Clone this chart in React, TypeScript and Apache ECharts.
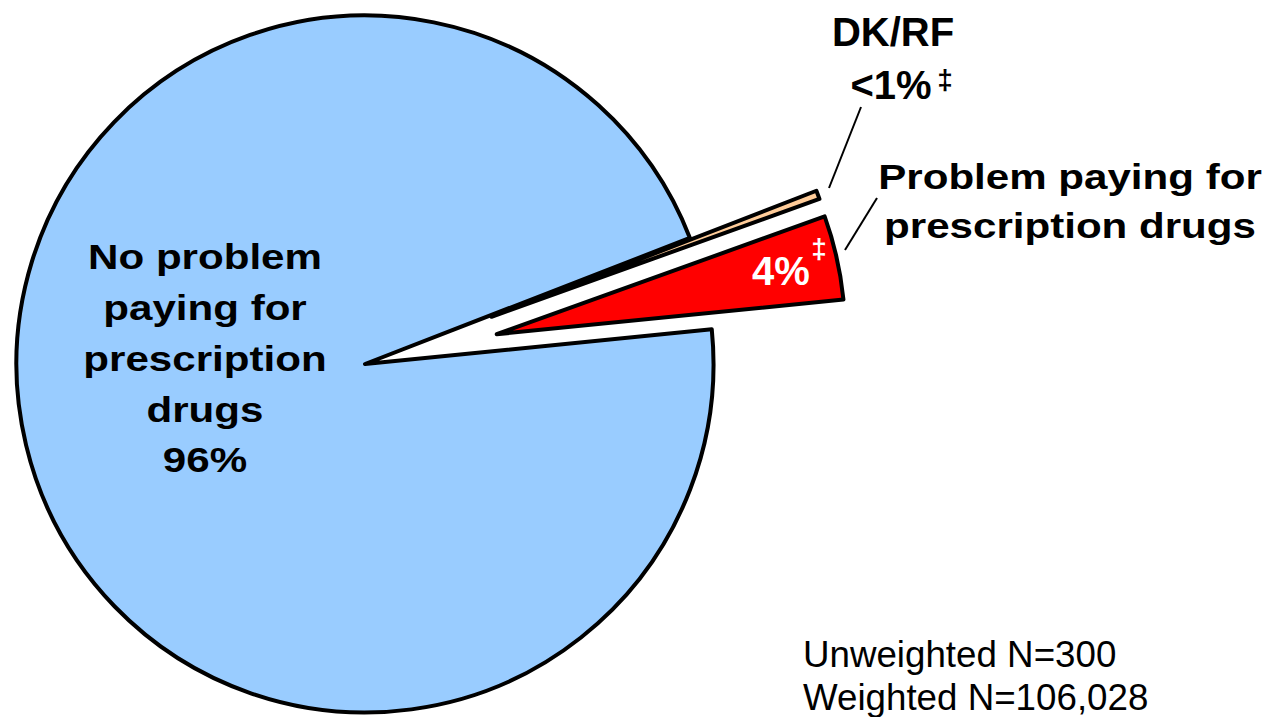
import React, { useEffect, useRef } from "react";
import * as echarts from "echarts";

// ---- data ----
const categories = ["DK/RF", "Problem paying for prescription drugs", "No problem paying for prescription drugs"];
const values = [0.4, 3.9, 95.7];
const valueLabels = ["<1%", "4%", "96%"];
const colors = ["#FFCC99", "#FF0000", "#99CCFF"];
const exploded = [true, true, false];
const blueLabelLines = ["No problem", "paying for", "prescription", "drugs"];
const redLabelLines = ["Problem paying for", "prescription drugs"];
const footnoteMark = "‡";
const sampleLines = ["Unweighted N=300", "Weighted N=106,028"];

const FONT = "'Liberation Sans', Arial, Helvetica, sans-serif";

export default function App() {
  const ref = useRef<HTMLDivElement>(null);

  useEffect(() => {
    if (!ref.current) return;
    const chart = echarts.init(ref.current, null, { renderer: "svg" });

    const boldText = (x: number, y: number, text: string, size: number, color: string, scaleX = 1, lineHeight?: number) => ({
      type: "text",
      x,
      y,
      z: 100,
      scaleX,
      silent: true,
      style: {
        x: 0,
        y: 0,
        text,
        fill: color,
        font: `bold ${size}px ${FONT}`,
        fontFamily: FONT,
        fontWeight: "bold",
        fontSize: size,
        lineHeight: lineHeight ?? size,
        align: "center",
        verticalAlign: "middle",
      },
    });

    const option: any = {
      animation: false,
      backgroundColor: "#ffffff",
      series: [
        {
          type: "pie",
          z: 2,
          center: [365, 364],
          radius: 348.5,
          startAngle: 21.2,
          clockwise: true,
          selectedMode: "multiple",
          selectedOffset: 135,
          silent: true,
          emphasis: { disabled: true },
          label: { show: false },
          labelLine: { show: false },
          itemStyle: { borderColor: "#000", borderWidth: 4, borderJoin: "round" },
          select: { itemStyle: { borderColor: "#000", borderWidth: 4 } },
          data: categories.map((name, i) => ({
            name,
            value: values[i],
            selected: exploded[i],
            itemStyle: { color: colors[i] },
            select: { itemStyle: { color: colors[i] } },
          })),
        },
      ],
      graphic: {
        elements: [
          // main slice label
          boldText(205, 358.5, blueLabelLines.concat([valueLabels[2]]).join("\n"), 36, "#000", 1.17, 50.75),
          // problem label
          boldText(1070, 201, redLabelLines.join("\n"), 36, "#000", 1.17, 49),
          // red value inside slice
          boldText(781, 271, valueLabels[1], 40, "#fff"),
          boldText(819, 248, footnoteMark, 28, "#fff"),
          // DK/RF label
          boldText(893, 32, categories[0], 40, "#000"),
          boldText(891, 85, valueLabels[0], 40, "#000"),
          boldText(945, 79, footnoteMark, 28, "#000"),
          // leader lines
          {
            type: "line",
            z: 100,
            silent: true,
            shape: { x1: 861, y1: 107, x2: 829, y2: 188 },
            style: { stroke: "#000", lineWidth: 2 },
          },
          {
            type: "line",
            z: 100,
            silent: true,
            shape: { x1: 845, y1: 250, x2: 877, y2: 198 },
            style: { stroke: "#000", lineWidth: 2 },
          },
          // sample sizes
          ...sampleLines.map((t, i) => ({
            type: "text",
            x: 803,
            y: 654.5 + i * 43,
            z: 100,
            scaleX: 1.02,
            silent: true,
            style: {
              x: 0,
              y: 0,
              text: t,
              fill: "#000",
              font: `${36}px ${FONT}`,
              fontFamily: FONT,
              fontSize: 36,
              align: "left",
              verticalAlign: "middle",
            },
          })),
        ],
      },
    };

    chart.setOption(option);
    return () => chart.dispose();
  }, []);

  return (
    <div
      ref={ref}
      style={{ position: "fixed", left: 0, top: 0, width: 1266, height: 717, background: "#fff" }}
    />
  );
}
